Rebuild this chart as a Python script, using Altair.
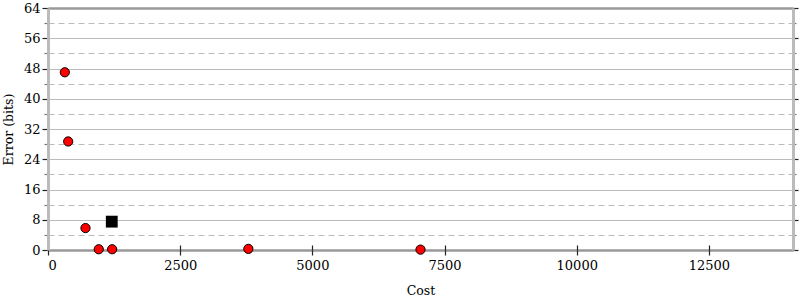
import altair as alt
import pandas as pd

# Data
costs = [318, 382, 709, 960, 1213, 3789, 7045]
errors = [47.0, 28.7, 5.8, 0.2, 0.2, 0.3, 0.1]
best_cost = [1206]
best_error = [7.5]

x_ticks = [0, 2500, 5000, 7500, 10000, 12500]
y_ticks = list(range(0, 65, 4))

pts = pd.DataFrame({"cost": costs, "error": errors})
best = pd.DataFrame({"cost": best_cost, "error": best_error})

FONT = "DejaVu Serif"
xscale = alt.Scale(domain=[0, 14090], nice=False, zero=True)
yscale = alt.Scale(domain=[0, 64], nice=False)

major = "datum.value % 8 === 0"
edge = "datum.value === 0 || datum.value === 64"

y_left = alt.Axis(
    values=y_ticks,
    title="Error (bits)",
    titleFont=FONT, titleFontSize=12.5, titleFontWeight="normal", titleColor="black",
    titlePadding=8,
    labelFont=FONT, labelFontSize=13, labelColor="black",
    labelExpr="datum.value % 8 === 0 ? datum.label : ''",
    labelPadding=2,
    domainColor="#bbbbbb", domainWidth=3,
    tickColor={"condition": {"test": major, "value": "#222222"}, "value": "#777777"},
    tickSize={"condition": {"test": major, "value": 6}, "value": 4},
    tickWidth=1.2,
    grid=True,
    gridColor={"condition": {"test": edge, "value": "#999999"}, "value": "#bbbbbb"},
    gridWidth={"condition": {"test": edge, "value": 2.5}, "value": 1},
    gridDash={"condition": {"test": major, "value": []}, "value": [6, 4]},
)

y_right = alt.Axis(
    values=y_ticks, orient="right", title=None, labels=False, grid=False,
    domainColor="#bbbbbb", domainWidth=3,
    tickColor={"condition": {"test": major, "value": "#222222"}, "value": "#777777"},
    tickSize={"condition": {"test": major, "value": 5}, "value": 3},
    tickWidth=1.2,
)

x_axis = alt.Axis(
    values=x_ticks, title="Cost", format="d", orient="bottom",
    titleFont=FONT, titleFontSize=12.5, titleFontWeight="normal", titleColor="black",
    titlePadding=12,
    labelFont=FONT, labelFontSize=13, labelColor="black", labelPadding=4,
    domain=False, grid=False,
    tickColor="#222222", tickSize=5, tickWidth=1.2,
)

x_axis_inner = alt.Axis(
    values=x_ticks, title=None, labels=False, orient="bottom", offset=-5,
    domain=False, grid=False,
    tickColor="#222222", tickSize=5, tickWidth=1.2,
)

points = alt.Chart(pts).mark_circle(
    size=85, color="#ff0000", stroke="black", strokeWidth=1, opacity=1
).encode(
    x=alt.X("cost:Q", scale=xscale, axis=x_axis),
    y=alt.Y("error:Q", scale=yscale, axis=y_left),
)

square = alt.Chart(best).mark_square(
    size=140, color="black", opacity=1
).encode(
    x=alt.X("cost:Q", scale=xscale, axis=x_axis_inner),
    y=alt.Y("error:Q", scale=yscale, axis=y_right),
)

chart = alt.layer(points, square).resolve_axis(x="independent", y="independent").properties(
    width=745, height=242,
    autosize=alt.AutoSizeParams(type="none"),
    padding={"left": 48, "top": 8, "right": 7, "bottom": 50},
).configure_view(stroke=None)

chart.save("out.html", embed_options={"renderer": "svg", "actions": False})
